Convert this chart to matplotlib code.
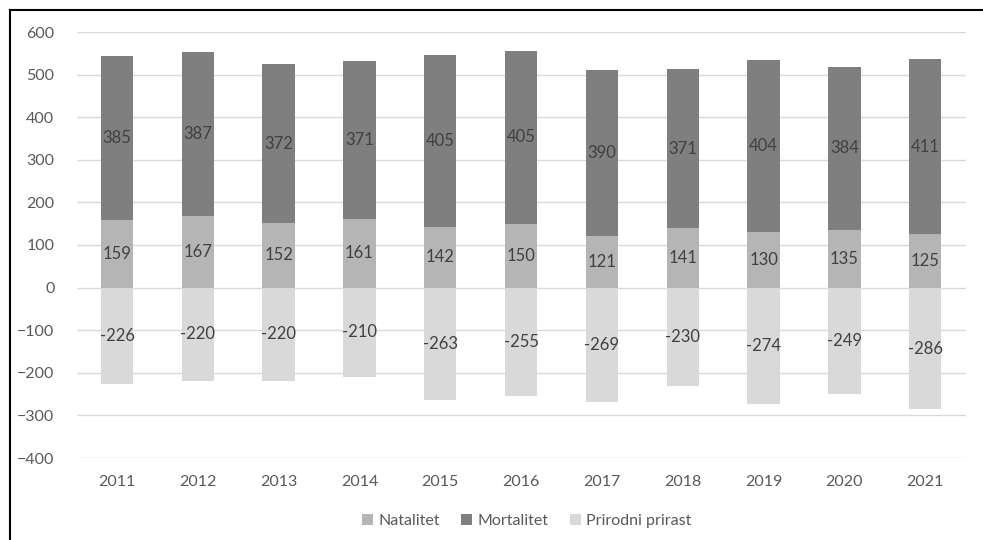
import matplotlib
matplotlib.use("Agg")
import matplotlib.pyplot as plt
from matplotlib.lines import Line2D
import numpy as np

plt.rcParams['font.family'] = ['Lato', 'DejaVu Sans']

years = ['2011', '2012', '2013', '2014', '2015', '2016', '2017', '2018', '2019', '2020', '2021']
natalitet = [159, 167, 152, 161, 142, 150, 121, 141, 130, 135, 125]
mortalitet = [385, 387, 372, 371, 405, 405, 390, 371, 404, 384, 411]
prirast = [-226, -220, -220, -210, -263, -255, -269, -230, -274, -249, -286]

c_nat = '#b5b5b5'
c_mort = '#7f7f7f'
c_pri = '#d9d9d9'
txt = '#404040'

fig = plt.figure(figsize=(9.83, 5.4), dpi=100)
ax = fig.add_axes([76.6/983, 1-458/540, (965.6-76.6)/983, (458-32)/540])

x = np.arange(len(years))
w = 0.4
ax.bar(x, natalitet, w, color=c_nat, label='Natalitet', zorder=3)
ax.bar(x, mortalitet, w, bottom=natalitet, color=c_mort, label='Mortalitet', zorder=3)
ax.bar(x, prirast, w, color=c_pri, label='Prirodni prirast', zorder=3)

for i in range(len(years)):
    ax.text(x[i], natalitet[i]/2, str(natalitet[i]), ha='center', va='center', fontsize=12, color=txt, zorder=4)
    ax.text(x[i], natalitet[i] + mortalitet[i]/2, str(mortalitet[i]), ha='center', va='center', fontsize=12, color=txt, zorder=4)
    ax.text(x[i], prirast[i]/2, str(prirast[i]), ha='center', va='center', fontsize=12, color=txt, zorder=4)

ax.set_xlim(-0.5, len(years)-0.5)
ax.set_ylim(-400, 600)
ax.set_yticks(np.arange(-400, 601, 100))
ax.set_xticks(x)
ax.set_xticklabels(years)
ax.tick_params(axis='both', length=0, labelsize=11.5, labelcolor='#595959')
ax.tick_params(axis='y', pad=16)
ax.tick_params(axis='x', pad=12)
ax.grid(axis='y', color='#d9d9d9', linewidth=1, zorder=0)
for s in ax.spines.values():
    s.set_visible(False)

leg = fig.legend(loc='center', bbox_to_anchor=(527/983, 1-521/540), ncol=3, frameon=False,
                 fontsize=11.5, handlelength=0.7, handleheight=0.7, handletextpad=0.35, columnspacing=1.3)
for t in leg.get_texts():
    t.set_color('#595959')

fig.add_artist(Line2D([9.5/983, 9.5/983], [0, 1-9.5/540], color='black', linewidth=1.5, transform=fig.transFigure))
fig.add_artist(Line2D([9.5/983, 1], [1-9.5/540, 1-9.5/540], color='black', linewidth=1.5, transform=fig.transFigure))

fig.savefig('out.png', dpi=100)
